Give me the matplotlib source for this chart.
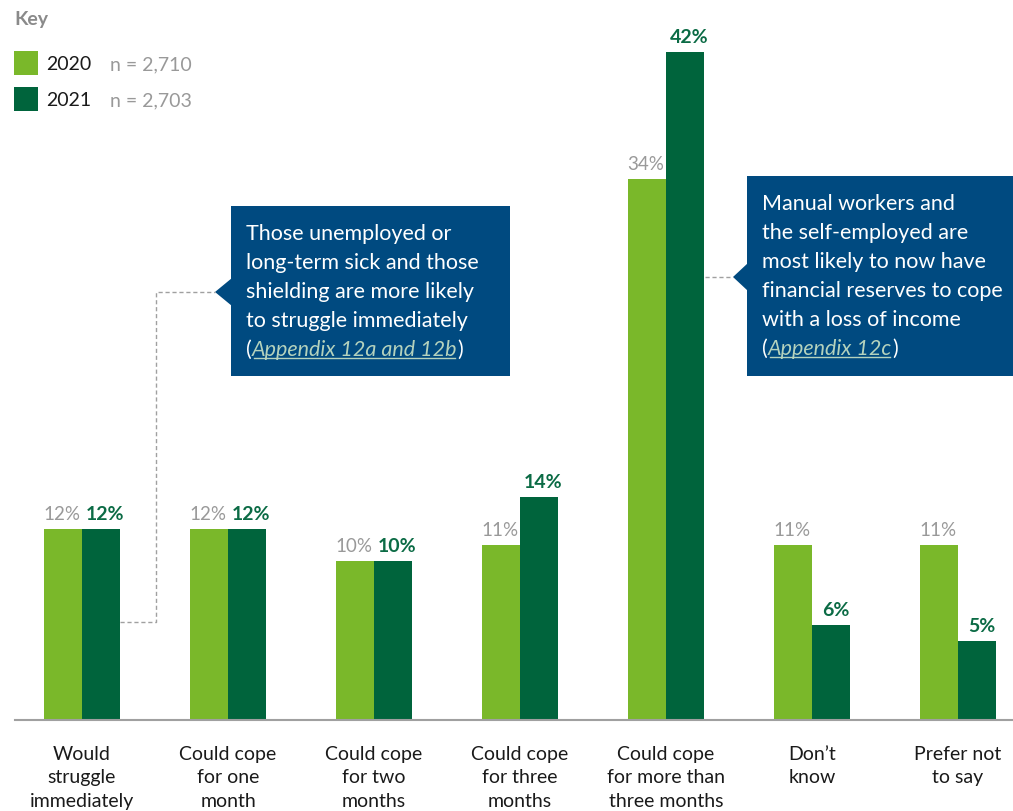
import matplotlib
matplotlib.use('Agg')
import matplotlib.pyplot as plt
from matplotlib.patches import Polygon, Rectangle
from matplotlib.lines import Line2D
import numpy as np

categories = ['Would\nstruggle\nimmediately', 'Could cope\nfor one\nmonth', 'Could cope\nfor two\nmonths',
              'Could cope\nfor three\nmonths', 'Could cope\nfor more than\nthree months', 'Don\u2019t\nknow',
              'Prefer not\nto say']
values_2020 = [12, 12, 10, 11, 34, 11, 11]
values_2021 = [12, 12, 10, 14, 42, 6, 5]
series = ['2020', '2021']
sample_sizes = ['n = 2,710', 'n = 2,703']

LIGHT = '#7ab82a'
DARK = '#00643c'
DARK_TXT = '#0b6b45'
GREY = '#999999'
BLUE = '#004a80'
LINK = '#b4d2bd'

plt.rcParams['font.family'] = ['Lato', 'DejaVu Sans']

W, H = 1013, 812
fig = plt.figure(figsize=(W / 100, H / 100), dpi=100)


def px(x, y):
    # pixel from top-left -> figure fraction
    return x / W, 1 - y / H


base_y = 721
ax = fig.add_axes([15 / W, (H - base_y) / H, (W - 15) / W, base_y / H])
ax.set_xlim(-67 / 146, -67 / 146 + 998 / 146)
ax.set_ylim(0, base_y / 15.9)
for s in ['top', 'right', 'left']:
    ax.spines[s].set_visible(False)
ax.spines['bottom'].set_color('#a0a0a0')
ax.spines['bottom'].set_linewidth(1.5)
ax.set_yticks([])
ax.set_xticks([])
ax.patch.set_alpha(0)

x = np.arange(len(categories))
bw = 38 / 146
ax.bar(x - bw / 2, values_2020, bw, color=LIGHT, linewidth=0)
ax.bar(x + bw / 2, values_2021, bw, color=DARK, linewidth=0)

for i in range(len(categories)):
    ax.annotate('{:d}%'.format(values_2020[i]), (x[i] - bw / 2, values_2020[i]), xytext=(-1, 5),
                textcoords='offset points', ha='center', va='bottom', fontsize=13.5, color=GREY)
    ax.annotate('{:d}%'.format(values_2021[i]), (x[i] + bw / 2 + 0.03, values_2021[i]), xytext=(0, 5),
                textcoords='offset points', ha='center', va='bottom', fontsize=14, color=DARK_TXT,
                fontweight='bold')
    ax.annotate(categories[i], (x[i], 0), xytext=(0, -18), textcoords='offset points', ha='center',
                va='top', fontsize=14, color='#1a1a1a', linespacing=1.45, annotation_clip=False)

# key
fig.text(*px(14, 20), 'Key', fontsize=14, fontweight='bold', color='#8a8a8a', va='center')
for j, (name, n, col) in enumerate(zip(series, sample_sizes, [LIGHT, DARK])):
    yc = 64 + 36 * j
    fig.patches.append(Rectangle(px(14, yc + 12), 24 / W, 24 / H, transform=fig.transFigure,
                                 color=col, linewidth=0))
    fig.text(*px(46, yc + 1), name, fontsize=14, color='#1a1a1a', va='center')
    fig.text(*px(110, yc + 1), n, fontsize=14, color='#999999', va='center')


def callout(x0, y0, x1, y1, tip, lines, link, fontsize=15.5):
    fig.patches.append(Rectangle(px(x0, y1), (x1 - x0) / W, (y1 - y0) / H,
                                 transform=fig.transFigure, color=BLUE, linewidth=0))
    tx, ty = tip
    fig.patches.append(Polygon([px(x0 + 1, ty - 14), px(tx, ty), px(x0 + 1, ty + 14)],
                               closed=True, transform=fig.transFigure, color=BLUE, linewidth=0))
    lx = x0 + 15
    yy = y0 + 26
    for ln in lines:
        fig.text(*px(lx, yy + 7), ln, fontsize=fontsize, color='white', va='baseline')
        yy += 29
    # last line with link
    r = fig.canvas.get_renderer()
    t1 = fig.text(*px(lx, yy + 7), '(', fontsize=fontsize, color='white', va='baseline')
    e1 = t1.get_window_extent(r)
    t2 = fig.text(e1.x1 / W, px(0, yy + 7)[1], link, fontsize=fontsize, color=LINK,
                  style='italic', va='baseline')
    e2 = t2.get_window_extent(r)
    fig.text(e2.x1 / W, px(0, yy + 7)[1], ')', fontsize=fontsize, color='white', va='baseline')
    uy = 1 - (yy + 10) / H
    fig.lines.append(Line2D([e2.x0 / W + 0.002, e2.x1 / W - 0.002], [uy, uy], transform=fig.transFigure,
                            color=LINK, linewidth=1))


callout(231, 207, 510, 377, (215, 293),
        ['Those unemployed or', 'long-term sick and those', 'shielding are more likely',
         'to struggle immediately'], 'Appendix 12a and 12b')
callout(747, 177, 1013, 377, (733, 278),
        ['Manual workers and', 'the self-employed are', 'most likely to now have',
         'financial reserves to cope', 'with a loss of income'], 'Appendix 12c')

# dashed connectors
dash = dict(color='#a0a0a0', linewidth=1, linestyle=(0, (3, 2)), transform=fig.transFigure)
p = [px(120, 623), px(156, 623), px(156, 293), px(215, 293)]
fig.lines.append(Line2D([q[0] for q in p], [q[1] for q in p], **dash))
p = [px(705, 278), px(733, 278)]
fig.lines.append(Line2D([q[0] for q in p], [q[1] for q in p], **dash))

fig.savefig('out.png', dpi=100, facecolor='white')
